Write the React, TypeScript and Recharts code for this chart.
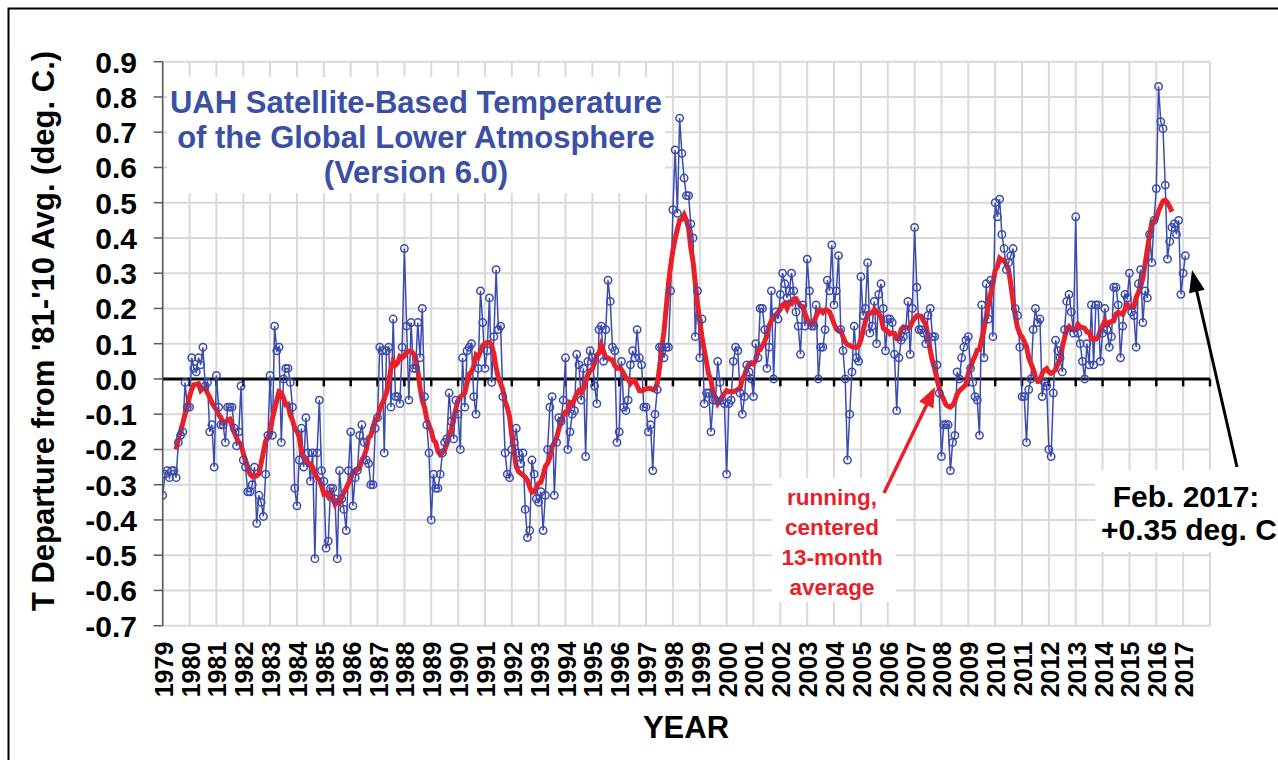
import React from 'react';
import { LineChart, Line, XAxis, YAxis, CartesianGrid, ReferenceLine } from 'recharts';

// ---- Monthly anomalies (deg C vs 1981-2010) ----
const FIRST_YEAR = 1979;
const Y1979 = [-0.33, -0.27, -0.26, -0.28, -0.26, -0.26, -0.28, -0.18, -0.16, -0.15, -0.01, -0.08];
const Y1980 = [-0.08, 0.06, 0.03, 0.02, 0.06, 0.04, 0.09, -0.02, -0.01, -0.15, -0.13, -0.25];
const Y1981 = [0.01, -0.08, -0.13, -0.13, -0.18, -0.08, -0.08, -0.08, -0.14, -0.19, -0.15, -0.02];
const Y1982 = [-0.23, -0.25, -0.32, -0.32, -0.30, -0.25, -0.41, -0.33, -0.35, -0.39, -0.27, -0.16];
const Y1983 = [0.01, -0.16, 0.15, 0.08, 0.09, -0.18, 0.00, 0.03, 0.03, -0.01, -0.08, -0.31];
const Y1984 = [-0.36, -0.23, -0.14, -0.25, -0.11, -0.21, -0.29, -0.21, -0.51, -0.21, -0.06, -0.26];
const Y1985 = [-0.29, -0.48, -0.46, -0.31, -0.31, -0.34, -0.51, -0.26, -0.34, -0.37, -0.43, -0.26];
const Y1986 = [-0.15, -0.36, -0.28, -0.26, -0.16, -0.13, -0.18, -0.23, -0.24, -0.30, -0.30, -0.14];
const Y1987 = [-0.11, 0.09, 0.08, -0.21, 0.08, 0.09, -0.08, 0.17, -0.05, -0.05, -0.07, 0.09];
const Y1988 = [0.37, 0.15, -0.06, 0.16, 0.03, 0.03, 0.16, 0.06, 0.20, -0.05, -0.13, -0.21];
const Y1989 = [-0.40, -0.27, -0.31, -0.31, -0.27, -0.21, -0.18, -0.17, -0.04, -0.12, -0.17, -0.06];
const Y1990 = [-0.10, -0.20, 0.06, -0.08, 0.08, 0.09, 0.10, -0.05, -0.10, 0.03, 0.25, 0.16];
const Y1991 = [0.03, 0.08, 0.23, -0.01, 0.12, 0.31, 0.14, 0.15, -0.05, -0.21, -0.27, -0.28];
const Y1992 = [-0.20, -0.18, -0.14, -0.21, -0.24, -0.21, -0.37, -0.45, -0.43, -0.23, -0.27, -0.34];
const Y1993 = [-0.35, -0.32, -0.43, -0.33, -0.20, -0.08, -0.05, -0.33, -0.18, -0.11, -0.12, -0.06];
const Y1994 = [0.06, -0.20, -0.15, -0.10, -0.09, 0.07, 0.04, -0.06, 0.03, -0.22, 0.05, 0.08];
const Y1995 = [0.06, -0.02, -0.07, 0.14, 0.15, 0.05, 0.14, 0.28, 0.22, 0.09, 0.08, -0.18];
const Y1996 = [-0.15, 0.05, -0.08, -0.09, -0.06, 0.04, 0.08, 0.06, 0.14, 0.06, 0.04, -0.08];
const Y1997 = [-0.08, -0.15, -0.13, -0.26, -0.10, -0.03, 0.09, 0.09, 0.06, 0.09, 0.09, 0.25];
const Y1998 = [0.48, 0.65, 0.47, 0.74, 0.64, 0.57, 0.52, 0.52, 0.44, 0.40, 0.12, 0.25];
const Y1999 = [0.06, 0.17, -0.07, -0.04, -0.04, -0.15, -0.06, -0.06, 0.05, -0.01, -0.06, -0.07];
const Y2000 = [-0.27, -0.07, -0.06, 0.05, 0.09, 0.08, -0.04, -0.10, -0.05, 0.04, 0.02, 0.00];
const Y2001 = [-0.05, 0.10, 0.06, 0.20, 0.20, 0.14, 0.03, 0.09, 0.25, 0.00, 0.19, 0.17];
const Y2002 = [0.24, 0.30, 0.27, 0.23, 0.25, 0.30, 0.25, 0.19, 0.15, 0.07, 0.21, 0.15];
const Y2003 = [0.34, 0.25, 0.15, 0.15, 0.21, 0.00, 0.09, 0.09, 0.14, 0.28, 0.25, 0.38];
const Y2004 = [0.21, 0.25, 0.35, 0.14, 0.08, 0.00, -0.23, -0.10, 0.02, 0.15, 0.06, 0.05];
const Y2005 = [0.29, 0.18, 0.20, 0.33, 0.13, 0.15, 0.22, 0.10, 0.24, 0.27, 0.20, 0.08];
const Y2006 = [0.17, 0.17, 0.16, 0.07, -0.09, 0.06, 0.11, 0.12, 0.14, 0.22, 0.07, 0.20];
const Y2007 = [0.43, 0.26, 0.14, 0.14, 0.13, 0.10, 0.18, 0.20, 0.12, 0.12, 0.04, -0.04];
const Y2008 = [-0.22, -0.13, -0.13, -0.13, -0.26, -0.18, -0.16, 0.02, 0.00, 0.06, 0.09, 0.11];
const Y2009 = [0.12, 0.03, -0.01, -0.05, -0.06, -0.16, 0.21, 0.06, 0.27, 0.17, 0.28, 0.12];
const Y2010 = [0.50, 0.46, 0.51, 0.41, 0.37, 0.31, 0.33, 0.35, 0.37, 0.20, 0.18, 0.09];
const Y2011 = [-0.05, -0.05, -0.18, -0.03, 0.00, 0.14, 0.20, 0.16, 0.17, -0.05, -0.01, -0.02];
const Y2012 = [-0.20, -0.22, -0.04, 0.11, 0.08, 0.06, 0.02, 0.14, 0.22, 0.24, 0.19, 0.13];
const Y2013 = [0.46, 0.13, 0.10, 0.05, 0.00, 0.10, 0.04, 0.21, 0.04, 0.21, 0.21, 0.05];
const Y2014 = [0.13, 0.20, 0.14, 0.09, 0.12, 0.26, 0.26, 0.21, 0.06, 0.15, 0.24, 0.23];
const Y2015 = [0.30, 0.19, 0.18, 0.09, 0.27, 0.31, 0.16, 0.25, 0.23, 0.41, 0.33, 0.45];
const Y2016 = [0.54, 0.83, 0.73, 0.71, 0.55, 0.34, 0.39, 0.43, 0.44, 0.41, 0.45, 0.24];
const Y2017 = [0.30, 0.35];

const MONTHLY_BY_YEAR = [
  Y1979, Y1980, Y1981, Y1982, Y1983, Y1984, Y1985, Y1986, Y1987, Y1988,
  Y1989, Y1990, Y1991, Y1992, Y1993, Y1994, Y1995, Y1996, Y1997, Y1998,
  Y1999, Y2000, Y2001, Y2002, Y2003, Y2004, Y2005, Y2006, Y2007, Y2008,
  Y2009, Y2010, Y2011, Y2012, Y2013, Y2014, Y2015, Y2016, Y2017,
];

const YEAR_TICKS = [
  1979, 1980, 1981, 1982, 1983, 1984, 1985, 1986, 1987, 1988, 1989, 1990, 1991,
  1992, 1993, 1994, 1995, 1996, 1997, 1998, 1999, 2000, 2001, 2002, 2003, 2004,
  2005, 2006, 2007, 2008, 2009, 2010, 2011, 2012, 2013, 2014, 2015, 2016, 2017, 2018,
];
const LAST_LABELED_YEAR = 2017;
const VALUE_TICKS = [-0.7, -0.6, -0.5, -0.4, -0.3, -0.2, -0.1, 0, 0.1, 0.2, 0.3, 0.4, 0.5, 0.6, 0.7, 0.8, 0.9];

const TITLE_LINES = ['UAH Satellite-Based Temperature', 'of the Global Lower Atmosphere', '(Version 6.0)'];
const Y_LABEL = "T Departure from '81-'10 Avg. (deg. C.)";
const X_LABEL = 'YEAR';
const NOTE_LINES = ['Feb. 2017:', '+0.35 deg. C'];
const AVG_LINES = ['running,', 'centered', '13-month', 'average'];
const AVG_WINDOW = 13;

// ---- build table ----
const monthly = MONTHLY_BY_YEAR.flatMap((vals, yi) =>
  vals.map((v, mi) => ({ t: FIRST_YEAR + yi + mi / 12, temp: v }))
);
const HALF = (AVG_WINDOW - 1) / 2;
const rows = monthly.map((r, i) => {
  if (i < HALF || i + HALF >= monthly.length) return { ...r, avg: null as number | null };
  let s = 0;
  for (let k = i - HALF; k <= i + HALF; k++) s += monthly[k].temp;
  return { ...r, avg: s / AVG_WINDOW };
});

// ---- styles ----
const FONT = "'Liberation Sans', Arial, Helvetica, sans-serif";
const BLUE = '#3B4CAE';
const TITLE_BLUE = '#3A4FA6';
const RED = '#E8202A';
const GRID = '#d9d9d9';
const AXIS = '#5a5a5a';

const XTick = (props: any) => {
  const { x, y, payload } = props;
  if (payload.value > LAST_LABELED_YEAR) return <g />;
  return (
    <text
      transform={`translate(${x + 1},${y}) rotate(-90)`}
      textAnchor="end"
      dy="0.36em"
      fontSize={25}
      fontWeight="bold"
      fill="#000"
      fontFamily={FONT}
    >
      {payload.value}
    </text>
  );
};

const YTick = (props: any) => {
  const { x, y, payload } = props;
  return (
    <text x={x} y={y} dy="0.36em" textAnchor="end" fontSize={30} fontWeight="bold" fill="#000" fontFamily={FONT}>
      {Number(payload.value).toFixed(1)}
    </text>
  );
};

function arrowHead(tipX: number, tipY: number, fromX: number, fromY: number, len: number, half: number) {
  const dx = tipX - fromX;
  const dy = tipY - fromY;
  const d = Math.sqrt(dx * dx + dy * dy);
  const ux = dx / d;
  const uy = dy / d;
  const bx = tipX - ux * len;
  const by = tipY - uy * len;
  const px = -uy;
  const py = ux;
  return `${tipX},${tipY} ${bx + px * half},${by + py * half} ${bx - px * half},${by - py * half}`;
}

export default function App() {
  const W = 1278;
  const H = 760;
  return (
    <div style={{ position: 'absolute', left: 0, top: 0, width: W, height: H, background: '#fff', overflow: 'hidden', fontFamily: FONT }}>
      <LineChart
        width={W}
        height={H}
        data={rows}
        margin={{ top: 61.7, right: 68, bottom: 94.3, left: 100 }}
      >
        <CartesianGrid stroke={GRID} strokeWidth={2} />
        <XAxis
          type="number"
          dataKey="t"
          domain={[1979, 2018]}
          ticks={YEAR_TICKS}
          interval={0}
          axisLine={false}
          tickLine={false}
          tickSize={6}
          tickMargin={10}
          height={40}
          tick={(p: any) => <XTick {...p} />}
          allowDataOverflow
        />
        <YAxis
          type="number"
          domain={[-0.7, 0.9]}
          ticks={VALUE_TICKS}
          interval={0}
          width={62.7}
          axisLine={{ stroke: AXIS, strokeWidth: 1.5 }}
          tickLine={{ stroke: AXIS, strokeWidth: 1.5 }}
          tickSize={9}
          tickMargin={16.7}
          tick={(p: any) => <YTick {...p} />}
          allowDataOverflow
        />
        <ReferenceLine y={0} stroke="#000" strokeWidth={3} />
        {YEAR_TICKS.slice(1).map((yr) => (
          <ReferenceLine
            key={yr}
            segment={[{ x: yr, y: 0 }, { x: yr, y: -0.021 }]}
            stroke="#000"
            strokeWidth={2.5}
          />
        ))}
        <Line
          type="linear"
          dataKey="temp"
          stroke={BLUE}
          strokeWidth={1.5}
          dot={{ r: 3.7, stroke: BLUE, strokeWidth: 1.5, fill: 'none' }}
          isAnimationActive={false}
        />
        <Line
          type="linear"
          dataKey="avg"
          stroke={RED}
          strokeWidth={5}
          dot={false}
          connectNulls={false}
          isAnimationActive={false}
        />
      </LineChart>

      <svg
        width={W}
        height={H}
        style={{ position: 'absolute', left: 0, top: 0, pointerEvents: 'none' }}
        fontFamily={FONT}
      >
        {/* outer frame */}
        <path d={`M8.5 ${H} L8.5 8.5 L${W} 8.5`} fill="none" stroke="#000" strokeWidth={2} />

        {/* title box */}
        <rect x={167} y={77} width={498} height={116} fill="#fff" />
        {TITLE_LINES.map((s, i) => (
          <text key={s} x={416} y={113 + i * 35} textAnchor="middle" fontSize={31} fontWeight="bold" fill={TITLE_BLUE}>
            {s}
          </text>
        ))}

        {/* y axis title */}
        <text transform="translate(54,331) rotate(-90)" textAnchor="middle" fontSize={31} fontWeight="bold" fill="#000">
          {Y_LABEL}
        </text>

        {/* x axis title */}
        <text x={686} y={738} textAnchor="middle" fontSize={31} fontWeight="bold" fill="#000">
          {X_LABEL}
        </text>

        {/* running average note */}
        <rect x={772} y={478} width={124} height={124} fill="#fff" />
        {AVG_LINES.map((s, i) => (
          <text key={s} x={832} y={505 + i * 30} textAnchor="middle" fontSize={22.5} fontWeight="bold" fill={RED}>
            {s}
          </text>
        ))}
        <line x1={884} y1={493} x2={929} y2={400} stroke={RED} strokeWidth={3.5} />
        <polygon points={arrowHead(935, 387, 884, 493, 20, 8)} fill={RED} />

        {/* last month note */}
        <rect x={1095} y={470} width={190} height={82} fill="#fff" />
        <text x={1186} y={507} textAnchor="middle" fontSize={30} fontWeight="bold" fill="#000">
          {NOTE_LINES[0]}
        </text>
        <text x={1189} y={540} textAnchor="middle" fontSize={30} fontWeight="bold" fill="#000">
          {NOTE_LINES[1]}
        </text>
        <line x1={1237} y1={467} x2={1196} y2={288} stroke="#000" strokeWidth={3} />
        <polygon points={arrowHead(1192, 270, 1237, 467, 22, 8)} fill="#000" />
      </svg>
    </div>
  );
}
